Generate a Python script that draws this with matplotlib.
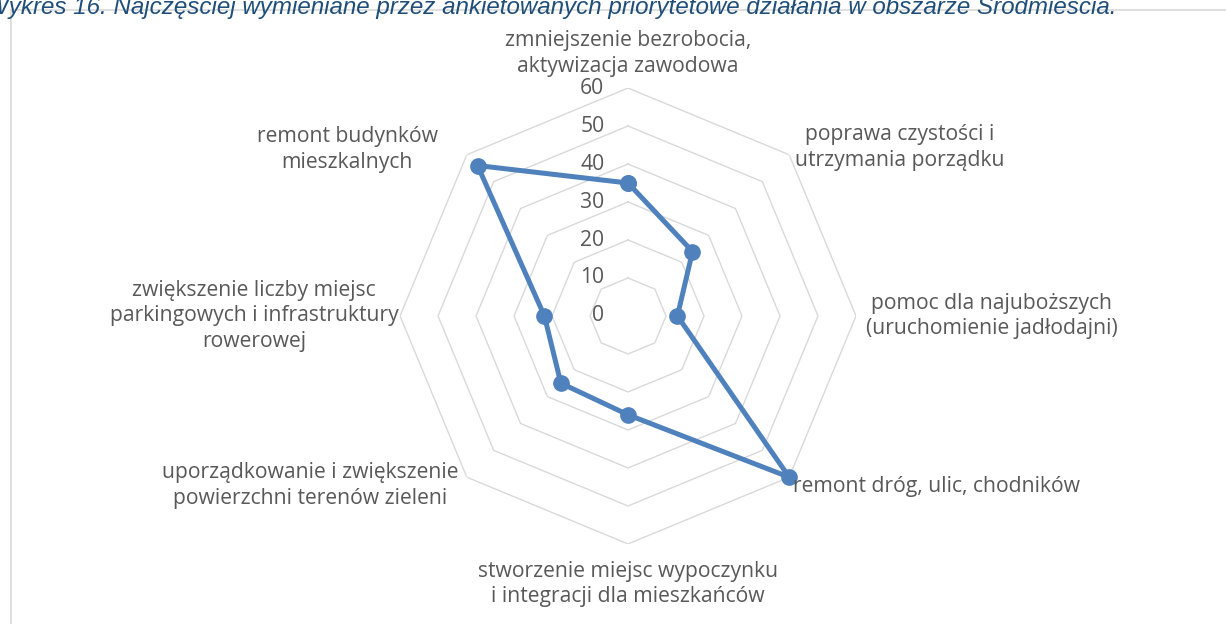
import numpy as np
import matplotlib.pyplot as plt
from matplotlib.patches import Rectangle

# data (clockwise from the top)
categories = [
    "zmniejszenie bezrobocia,\naktywizacja zawodowa",
    "poprawa czystości i\nutrzymania porządku",
    "pomoc dla najuboższych\n(uruchomienie jadłodajni)",
    "remont dróg, ulic, chodników",
    "stworzenie miejsc wypoczynku\ni integracji dla mieszkańców",
    "uporządkowanie i zwiększenie\npowierzchni terenów zieleni",
    "zwiększenie liczby miejsc\nparkingowych i infrastruktury\nrowerowej",
    "remont budynków\nmieszkalnych",
]
values = [35, 24, 13, 60, 26, 25, 22, 56]
ticks = [0, 10, 20, 30, 40, 50, 60]
title = "Wykres 16. Najczęściej wymieniane przez ankietowanych priorytetowe działania w obszarze Śródmieścia."

# label placement: (ha, va, dx, dy) offsets in points
label_pos = [
    ("center", "bottom", 0, 8),
    ("left", "center", 4, 5),
    ("left", "center", 7, 0),
    ("left", "center", 3, -7),
    ("center", "top", 0, -12),
    ("right", "center", -6, -6),
    ("right", "center", -1, 0),
    ("right", "center", -21, 4),
]

text_color = "#595959"
grid_color = "#D9D9D9"
line_color = "#4F81BD"
fs = 15.2

fig = plt.figure(figsize=(12.26, 6.24), dpi=100)

# chart area border
fig.patches.append(Rectangle((11 / 1226, -0.1), 1.2, 1.1 - 10 / 624,
                             transform=fig.transFigure, fill=False,
                             edgecolor=grid_color, linewidth=1.2))

fig.text(-14 / 1226, 1 - 14 / 624, title, fontsize=17.4, style="italic",
         family="Liberation Sans", color="#1F4E79", va="baseline")

ax = fig.add_axes([0.3263, 0.1282, 0.3719, 0.7308], projection="polar")
ax.set_theta_zero_location("N")
ax.set_theta_direction(-1)
ax.set_ylim(0, 60)
ax.axis("off")

n = len(categories)
angles = np.arange(n) * 2 * np.pi / n
ang_closed = np.append(angles, angles[0])

for r in ticks[1:]:
    ax.plot(ang_closed, [r] * (n + 1), color=grid_color, lw=1.0, zorder=1)

for r in ticks:
    ax.annotate(str(r), (0, r), xytext=(-17, 0), textcoords="offset points",
                ha="right", va="center", fontsize=fs, family="Open Sans",
                color=text_color)

vals_closed = values + values[:1]
ax.plot(ang_closed, vals_closed, color=line_color, lw=3.6, marker="o",
        markersize=11, zorder=3, clip_on=False)

for a, lab, (ha, va, dx, dy) in zip(angles, categories, label_pos):
    ax.annotate(lab, (a, 60), xytext=(dx, dy), textcoords="offset points",
                ha=ha, va=va, multialignment="center", fontsize=fs,
                family="Open Sans", color=text_color, linespacing=1.3)

plt.savefig("out.png", dpi=100)
